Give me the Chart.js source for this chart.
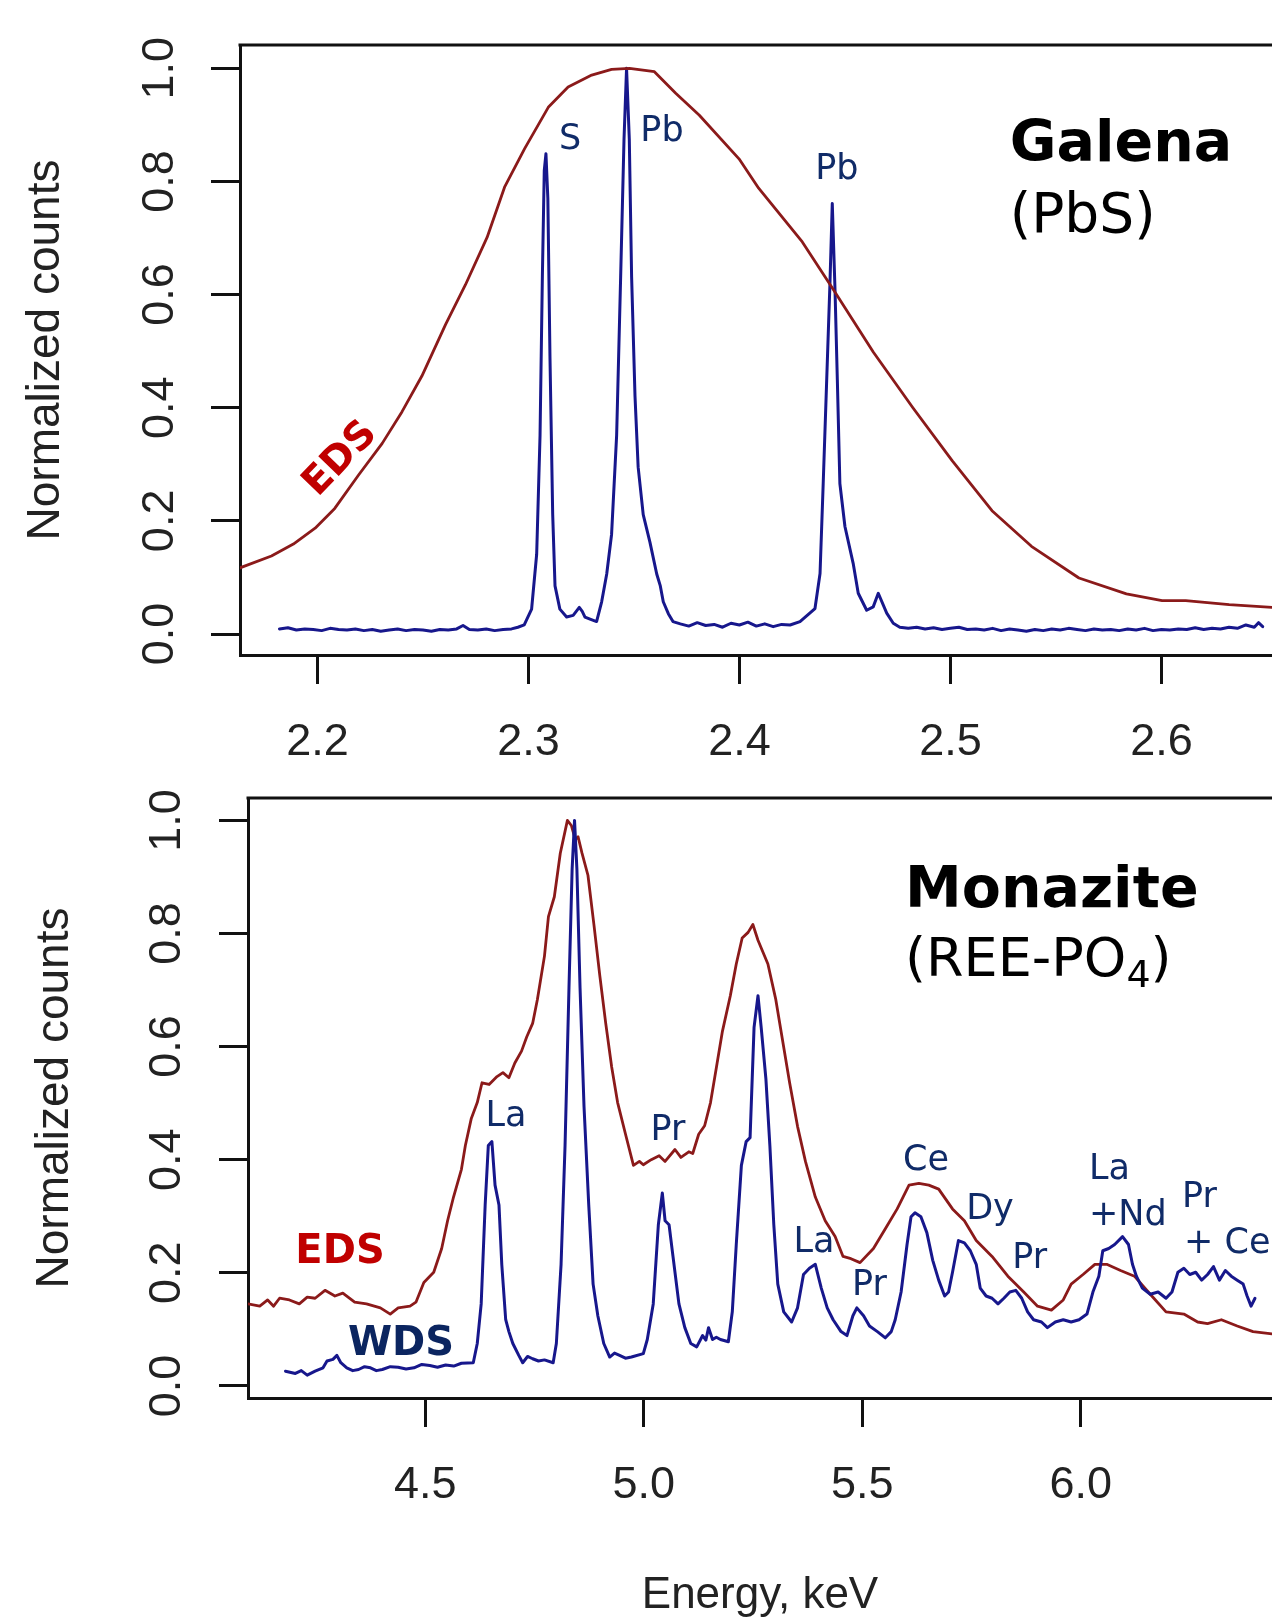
<!DOCTYPE html>
<html>
<head>
<meta charset="utf-8">
<script src="https://cdn.jsdelivr.net/npm/chart.js@4.4.0/dist/chart.umd.min.js"></script>
<style>
  html, body { margin: 0; padding: 0; background: #fff; }
  body { width: 1272px; height: 1622px; position: relative; overflow: hidden; }
  canvas { position: absolute; left: 0; }
  #galena { top: 0; }
  #monazite { top: 780px; }
</style>
</head>
<body>
<canvas id="galena" width="1272" height="780"></canvas>
<canvas id="monazite" width="1272" height="842"></canvas>
<script>
'use strict'
// ---- Galena (PbS) ----
const galenaEdsKeV = [2.1633, 2.1782, 2.1886, 2.1989, 2.2082, 2.2195, 2.2307, 2.2401, 2.2495, 2.2607,
  2.2701, 2.2804, 2.2888, 2.2982, 2.3094, 2.3188, 2.3300, 2.3394, 2.3479, 2.3597, 2.3698, 2.3810,
  2.3998, 2.4091, 2.4298, 2.4438, 2.4635, 2.4822, 2.5009, 2.5197, 2.5384, 2.5609, 2.5834, 2.6003,
  2.6115, 2.6321, 2.6524];
const galenaEdsCounts = [0.117, 0.138, 0.159, 0.187, 0.222, 0.281, 0.337, 0.393, 0.456, 0.547,
  0.617, 0.701, 0.791, 0.858, 0.931, 0.967, 0.988, 0.998, 1.000, 0.994, 0.956, 0.917,
  0.840, 0.788, 0.693, 0.613, 0.498, 0.400, 0.306, 0.218, 0.155, 0.099, 0.071, 0.059,
  0.059, 0.052, 0.047];

const galenaWdsKeV = [2.182, 2.186, 2.190, 2.194, 2.198, 2.202, 2.206, 2.210, 2.214, 2.218,
  2.222, 2.226, 2.230, 2.234, 2.238, 2.242, 2.246, 2.250, 2.254, 2.258, 2.262, 2.266, 2.269,
  2.272, 2.276, 2.280, 2.284, 2.288, 2.292, 2.295, 2.298,
  2.3015, 2.3039, 2.3055, 2.3066, 2.3075, 2.3083, 2.3092, 2.3102, 2.3115, 2.3126, 2.3149,
  2.3181, 2.3212, 2.3241, 2.3255, 2.3268, 2.3295, 2.3323, 2.3347, 2.3371, 2.3394, 2.3418,
  2.3437, 2.3453, 2.3465, 2.3478, 2.3489, 2.3505, 2.3520, 2.3544, 2.3576, 2.3608, 2.3625,
  2.3639, 2.3663, 2.3685, 2.372, 2.376, 2.380, 2.384, 2.388, 2.392, 2.396, 2.400, 2.404,
  2.408, 2.412, 2.416, 2.420, 2.424, 2.4287, 2.4358, 2.4382, 2.4397, 2.4413, 2.4429, 2.4440,
  2.4453, 2.4464, 2.4476, 2.4500, 2.4539, 2.4563, 2.4603, 2.4634, 2.4658, 2.4698, 2.4729,
  2.476, 2.480, 2.484, 2.488, 2.492, 2.496, 2.500, 2.504, 2.508, 2.512, 2.516, 2.520, 2.524,
  2.528, 2.532, 2.536, 2.540, 2.544, 2.548, 2.552, 2.556, 2.560, 2.564, 2.568, 2.572, 2.576,
  2.580, 2.584, 2.588, 2.592, 2.596, 2.600, 2.604, 2.608, 2.612, 2.616, 2.620, 2.624, 2.628,
  2.632, 2.636, 2.640, 2.644, 2.646, 2.648];
const galenaWdsCounts = [0.009, 0.011, 0.007, 0.009, 0.008, 0.006, 0.010, 0.008, 0.007, 0.009,
  0.006, 0.008, 0.005, 0.007, 0.009, 0.006, 0.008, 0.007, 0.005, 0.008, 0.007, 0.009, 0.015,
  0.008, 0.007, 0.009, 0.006, 0.008, 0.009, 0.012, 0.016,
  0.044, 0.141, 0.351, 0.631, 0.819, 0.849, 0.770, 0.491, 0.211, 0.085, 0.044,
  0.030, 0.033, 0.047, 0.040, 0.030, 0.026, 0.022, 0.057, 0.106, 0.176, 0.351,
  0.631, 0.875, 1.000, 0.875, 0.631, 0.421, 0.295, 0.211, 0.162, 0.106, 0.085,
  0.057, 0.036, 0.022, 0.018, 0.014, 0.020, 0.015, 0.017, 0.012, 0.019, 0.016, 0.021,
  0.014, 0.018, 0.013, 0.017, 0.016, 0.022, 0.045, 0.107, 0.266, 0.443, 0.620, 0.761,
  0.608, 0.449, 0.266, 0.190, 0.125, 0.072, 0.042, 0.048, 0.072, 0.037, 0.019,
  0.012, 0.010, 0.012, 0.009, 0.011, 0.008, 0.010, 0.012, 0.008, 0.009, 0.007, 0.010, 0.006,
  0.009, 0.007, 0.005, 0.008, 0.006, 0.009, 0.007, 0.010, 0.008, 0.006, 0.009, 0.007, 0.008,
  0.006, 0.009, 0.007, 0.010, 0.006, 0.008, 0.007, 0.009, 0.008, 0.011, 0.008, 0.010, 0.009,
  0.012, 0.010, 0.016, 0.012, 0.020, 0.013];

const galenaTicksKeV = [2.2, 2.3, 2.4, 2.5, 2.6];

// ---- Monazite (REE-PO4) ----
const monaziteEdsKeV = [4.0941, 4.1212, 4.1393, 4.1529, 4.1665, 4.1891, 4.2117, 4.2298, 4.2479,
  4.2705, 4.2932, 4.3113, 4.3384, 4.3655, 4.3972, 4.4198, 4.4379, 4.4651, 4.4786, 4.4967,
  4.5193, 4.5375, 4.5510, 4.5646, 4.5827, 4.5917, 4.6053, 4.6189, 4.6298, 4.6460, 4.6641,
  4.6777, 4.6913, 4.7049, 4.7202, 4.7320, 4.7456, 4.7564, 4.7727, 4.7818, 4.7953, 4.8089,
  4.8252, 4.8342, 4.8433, 4.8496, 4.8586, 4.8722, 4.8858, 4.8994, 4.9129, 4.9265, 4.9401,
  4.9582, 4.9763, 4.9899, 4.9989, 5.0170, 5.0351, 5.0487, 5.0713, 5.0849, 5.1030, 5.1120,
  5.1256, 5.1392, 5.1527, 5.1663, 5.1799, 5.1980, 5.2116, 5.2251, 5.2387, 5.2496, 5.2613,
  5.2840, 5.3021, 5.3156, 5.3337, 5.3518, 5.3699, 5.3925, 5.4151, 5.4378, 5.4559, 5.4740,
  5.4948, 5.5255, 5.5527, 5.5798, 5.6069, 5.6295, 5.6522, 5.6748, 5.7064, 5.7336, 5.7607,
  5.7969, 5.8331, 5.8694, 5.9010, 5.9327, 5.9598, 5.9779, 6.0051, 6.0322, 6.0593, 6.0910,
  6.1227, 6.1589, 6.1950, 6.2358, 6.2674, 6.2900, 6.3217, 6.3579, 6.3941, 6.4376];
const monaziteEdsCounts = [0.145, 0.141, 0.152, 0.141, 0.155, 0.152, 0.145, 0.157, 0.155,
  0.169, 0.159, 0.164, 0.148, 0.145, 0.138, 0.127, 0.138, 0.141, 0.148, 0.183,
  0.201, 0.243, 0.292, 0.334, 0.383, 0.425, 0.473, 0.501, 0.536, 0.533, 0.547,
  0.554, 0.545, 0.571, 0.592, 0.617, 0.641, 0.683, 0.760, 0.830, 0.865, 0.942,
  1.000, 0.991, 0.966, 0.971, 0.942, 0.903, 0.816, 0.725, 0.641, 0.564, 0.501,
  0.445, 0.390, 0.397, 0.391, 0.400, 0.407, 0.397, 0.418, 0.404, 0.414, 0.411,
  0.445, 0.460, 0.501, 0.564, 0.627, 0.690, 0.746, 0.792, 0.802, 0.816, 0.788,
  0.746, 0.683, 0.620, 0.536, 0.459, 0.397, 0.334, 0.292, 0.264, 0.229, 0.225,
  0.218, 0.243, 0.278, 0.313, 0.355, 0.358, 0.355, 0.348, 0.313, 0.292, 0.257,
  0.229, 0.194, 0.166, 0.141, 0.134, 0.152, 0.180, 0.197, 0.215, 0.215, 0.204,
  0.194, 0.162, 0.131, 0.127, 0.113, 0.110, 0.117, 0.106, 0.096, 0.092];

const monaziteWdsKeV = [4.1801, 4.2027, 4.2162, 4.2298, 4.2479, 4.2660, 4.2751, 4.2886, 4.2977,
  4.3067, 4.3203, 4.3340, 4.3474, 4.3610, 4.3746, 4.3880, 4.4017, 4.4200, 4.4379, 4.4560,
  4.4741, 4.4920, 4.5103, 4.5280, 4.5465, 4.5650, 4.5827, 4.6098, 4.6189, 4.6279, 4.6370,
  4.6442, 4.6524, 4.6596, 4.6686, 4.6750, 4.6840, 4.6913, 4.7003, 4.7139, 4.7229, 4.7340,
  4.7456, 4.7590, 4.7727, 4.7926, 4.7999, 4.8107, 4.8198, 4.8288, 4.8360, 4.8415, 4.8469,
  4.8541, 4.8632, 4.8740, 4.8840, 4.8948, 4.9084, 4.9220, 4.9330, 4.9446, 4.9580, 4.9718,
  4.9989, 5.0080, 5.0216, 5.0333, 5.0424, 5.0487, 5.0578, 5.0668, 5.0804, 5.0939, 5.1075,
  5.1211, 5.1346, 5.1420, 5.1482, 5.1573, 5.1660, 5.1754, 5.1935, 5.2025, 5.2116, 5.2233,
  5.2342, 5.2432, 5.2523, 5.2613, 5.2686, 5.2794, 5.2885, 5.2975, 5.3066, 5.3202, 5.3383,
  5.3518, 5.3654, 5.3790, 5.3925, 5.4061, 5.4197, 5.4332, 5.4513, 5.4649, 5.4785, 5.4875,
  5.5029, 5.5164, 5.5345, 5.5527, 5.5662, 5.5753, 5.5888, 5.6024, 5.6115, 5.6205, 5.6341,
  5.6477, 5.6612, 5.6748, 5.6884, 5.6974, 5.7064, 5.7200, 5.7336, 5.7472, 5.7607, 5.7698,
  5.7833, 5.7969, 5.8105, 5.8240, 5.8376, 5.8512, 5.8648, 5.8783, 5.8919, 5.9100, 5.9236,
  5.9417, 5.9598, 5.9779, 5.9960, 6.0141, 6.0277, 6.0413, 6.0503, 6.0639, 6.0775, 6.0955,
  6.1091, 6.1182, 6.1272, 6.1408, 6.1589, 6.1769, 6.1950, 6.2086, 6.2222, 6.2358, 6.2494,
  6.2629, 6.2765, 6.2901, 6.3036, 6.3172, 6.3308, 6.3443, 6.3579, 6.3715, 6.3805, 6.3896,
  6.3986];
const monaziteWdsCounts = [0.026, 0.022, 0.027, 0.019, 0.026, 0.032, 0.044, 0.047, 0.054,
  0.041, 0.032, 0.027, 0.029, 0.034, 0.032, 0.027, 0.029, 0.034, 0.033, 0.030,
  0.032, 0.038, 0.036, 0.033, 0.037, 0.035, 0.040, 0.041, 0.075, 0.145, 0.320,
  0.425, 0.432, 0.355, 0.320, 0.215, 0.117, 0.096, 0.075, 0.054, 0.041, 0.052,
  0.048, 0.044, 0.046, 0.041, 0.075, 0.215, 0.425, 0.704, 0.914, 1.000, 0.914,
  0.704, 0.494, 0.320, 0.180, 0.124, 0.075, 0.051, 0.058, 0.054, 0.049, 0.051,
  0.057, 0.082, 0.145, 0.285, 0.341, 0.292, 0.285, 0.229, 0.145, 0.103, 0.075,
  0.069, 0.089, 0.081, 0.103, 0.082, 0.086, 0.082, 0.078, 0.131, 0.250, 0.390,
  0.432, 0.439, 0.634, 0.690, 0.634, 0.543, 0.425, 0.285, 0.180, 0.131, 0.113,
  0.138, 0.197, 0.208, 0.215, 0.173, 0.138, 0.117, 0.096, 0.089, 0.124, 0.138,
  0.124, 0.106, 0.096, 0.085, 0.096, 0.117, 0.166, 0.250, 0.299, 0.306, 0.299,
  0.271, 0.222, 0.187, 0.159, 0.166, 0.201, 0.257, 0.253, 0.239, 0.215, 0.173,
  0.159, 0.155, 0.145, 0.155, 0.166, 0.169, 0.155, 0.131, 0.117, 0.113, 0.103,
  0.113, 0.117, 0.113, 0.117, 0.127, 0.166, 0.194, 0.239, 0.243, 0.250, 0.264,
  0.250, 0.215, 0.194, 0.173, 0.162, 0.166, 0.155, 0.166, 0.201, 0.208, 0.197,
  0.201, 0.187, 0.197, 0.211, 0.187, 0.204, 0.194, 0.187, 0.180, 0.159, 0.141,
  0.155];

const monaziteTicksKeV = [4.5, 5.0, 5.5, 6.0];
const countTicks = [0.0, 0.2, 0.4, 0.6, 0.8, 1.0];

Chart.defaults.font.family = "'Liberation Sans', Arial, sans-serif";
Chart.defaults.color = '#222';

const EDS_LINE = '#8b1a1a';
const WDS_LINE = '#17178c';
const NAVY = '#102b68';
const peakFont = '35px "DejaVu Sans"';

const pts = function (xs, ys) { return xs.map((x, i) => ({x: x, y: ys[i]})); };

// box top edge + text notes placed in data units
const frameAndNotes = {
    id: 'frameAndNotes',
    afterDraw(chart, args, opts) {
        const ctx = chart.ctx;
        const a = chart.chartArea;
        const xs = chart.scales.x;
        const ys = chart.scales.y;
        ctx.save();
        ctx.strokeStyle = '#111';
        ctx.lineWidth = 3;
        ctx.beginPath();
        ctx.moveTo(a.left - 1.5, a.top);
        ctx.lineTo(a.right, a.top);
        ctx.stroke();
        (opts.notes || []).forEach(function (n) {
            ctx.save();
            ctx.translate(xs.getPixelForValue(n.kev), ys.getPixelForValue(n.counts));
            if (n.angle) ctx.rotate(n.angle * Math.PI / 180);
            ctx.fillStyle = n.color;
            ctx.textAlign = n.align || 'left';
            ctx.textBaseline = n.baseline || 'alphabetic';
            const parts = n.parts || [{text: n.text, font: n.font, dy: 0}];
            let x = 0;
            parts.forEach(function (p) {
                ctx.font = p.font;
                ctx.fillText(p.text, x, p.dy || 0);
                x += ctx.measureText(p.text).width;
            });
            ctx.restore();
        });
        ctx.restore();
    }
};

const spectrumChart = function (canvas, c) {
    return new Chart(canvas, {
        type: 'line',
        data: {datasets: c.datasets},
        plugins: [frameAndNotes],
        options: {
            responsive: false,
            animation: false,
            layout: {padding: {top: c.padTop, left: 0, right: 0, bottom: 0}},
            elements: {point: {radius: 0}, line: {tension: 0, borderJoinStyle: 'round', borderCapStyle: 'round'}},
            plugins: {
                legend: {display: false},
                tooltip: {enabled: false},
                frameAndNotes: {notes: c.notes}
            },
            scales: {
                x: {
                    type: 'linear',
                    min: c.xMin,
                    max: c.xMax,
                    afterBuildTicks: function (s) { s.ticks = c.xTicks.map(v => ({value: v})); },
                    afterFit: function (s) { s.height = c.xAxisHeight; s.paddingLeft = 0; s.paddingRight = 0; },
                    border: {display: true, color: '#111', width: 3},
                    grid: {display: true, drawOnChartArea: false, drawTicks: true, tickLength: 29, tickWidth: 3, tickColor: '#111'},
                    ticks: {
                        font: {size: 45},
                        color: '#222',
                        padding: 32,
                        maxRotation: 0,
                        autoSkip: false,
                        callback: v => v.toFixed(1)
                    },
                    title: c.xTitle ? {
                        display: true,
                        text: c.xTitle,
                        font: {size: 44},
                        color: '#222',
                        padding: {top: 0, bottom: 0}
                    } : {display: false}
                },
                y: {
                    min: c.yMin,
                    max: c.yMax,
                    afterBuildTicks: function (s) { s.ticks = countTicks.map(v => ({value: v})); },
                    afterFit: function (s) { s.width = c.yAxisWidth; s.paddingTop = 0; s.paddingBottom = 0; },
                    border: {display: true, color: '#111', width: 3},
                    grid: {display: true, drawOnChartArea: false, drawTicks: true, tickLength: 29, tickWidth: 3, tickColor: '#111'},
                    ticks: {
                        font: {size: 45},
                        color: '#222',
                        padding: c.yTickPad,
                        minRotation: 90,
                        maxRotation: 90,
                        crossAlign: 'center',
                        autoSkip: false,
                        callback: v => v.toFixed(1)
                    },
                    title: {
                        display: true,
                        text: 'Normalized counts',
                        font: {size: 46},
                        color: '#222',
                        padding: {top: c.yTitlePad, bottom: 0}
                    }
                }
            }
        }
    });
};

const galenaChart = spectrumChart(document.getElementById('galena'), {
    datasets: [
        {label: 'EDS', data: pts(galenaEdsKeV, galenaEdsCounts), borderColor: EDS_LINE, borderWidth: 2.8},
        {label: 'WDS', data: pts(galenaWdsKeV, galenaWdsCounts), borderColor: WDS_LINE, borderWidth: 3.0}
    ],
    xMin: 2.1633, xMax: 2.6524, xTicks: galenaTicksKeV,
    yMin: -0.0371, yMax: 1.0412,
    padTop: 45, xAxisHeight: 125, yAxisWidth: 240, yTickPad: 19, yTitlePad: 19,
    notes: [
        {text: 'S', kev: 2.3197, counts: 0.858, font: peakFont, color: NAVY, align: 'center'},
        {text: 'Pb', kev: 2.3633, counts: 0.872, font: peakFont, color: NAVY, align: 'center'},
        {text: 'Pb', kev: 2.4462, counts: 0.805, font: peakFont, color: NAVY, align: 'center'},
        {text: 'Galena', kev: 2.5281, counts: 0.837, font: 'bold 57px "DejaVu Sans"', color: '#000'},
        {text: '(PbS)', kev: 2.5281, counts: 0.711, font: '55px "DejaVu Sans"', color: '#000'},
        {text: 'EDS', kev: 2.2110, counts: 0.309, font: 'bold 39px "DejaVu Sans"', color: '#c00000',
            align: 'center', baseline: 'middle', angle: -46}
    ]
});

const monaziteChart = spectrumChart(document.getElementById('monazite'), {
    datasets: [
        {label: 'WDS', data: pts(monaziteWdsKeV, monaziteWdsCounts), borderColor: WDS_LINE, borderWidth: 3.0},
        {label: 'EDS', data: pts(monaziteEdsKeV, monaziteEdsCounts), borderColor: EDS_LINE, borderWidth: 2.8}
    ],
    xMin: 4.0943, xMax: 6.4375, xTicks: monaziteTicksKeV, xTitle: 'Energy, keV',
    yMin: -0.0214, yMax: 1.0396,
    padTop: 18, xAxisHeight: 224, yAxisWidth: 248, yTickPad: 20, yTitlePad: 28,
    notes: [
        {text: 'La', kev: 4.6847, counts: 0.4596, font: peakFont, color: NAVY, align: 'center'},
        {text: 'Pr', kev: 5.0554, counts: 0.4348, font: peakFont, color: NAVY, align: 'center'},
        {text: 'La', kev: 5.3895, counts: 0.2371, font: peakFont, color: NAVY, align: 'center'},
        {text: 'Pr', kev: 5.5165, counts: 0.1602, font: peakFont, color: NAVY, align: 'center'},
        {text: 'Ce', kev: 5.6458, counts: 0.3825, font: peakFont, color: NAVY, align: 'center'},
        {text: 'Dy', kev: 5.7922, counts: 0.2951, font: peakFont, color: NAVY, align: 'center'},
        {text: 'Pr', kev: 5.8828, counts: 0.2076, font: peakFont, color: NAVY, align: 'center'},
        {text: 'La', kev: 6.0188, counts: 0.365, font: peakFont, color: NAVY},
        {text: '+Nd', kev: 6.0188, counts: 0.2846, font: peakFont, color: NAVY},
        {text: 'Pr', kev: 6.2316, counts: 0.316, font: peakFont, color: NAVY},
        {text: '+ Ce', kev: 6.2362, counts: 0.2357, font: peakFont, color: NAVY},
        {text: 'EDS', kev: 4.2027, counts: 0.2182, font: 'bold 40px "DejaVu Sans"', color: '#c00000'},
        {text: 'WDS', kev: 4.4444, counts: 0.0553, font: 'bold 40px "DejaVu Sans"', color: '#0b2560', align: 'center'},
        {text: 'Monazite', kev: 5.5977, counts: 0.8476, font: 'bold 57px "DejaVu Sans"', color: '#000'},
        {kev: 5.5977, counts: 0.7252, color: '#000', parts: [
            {text: '(REE-PO', font: '54px "DejaVu Sans"', dy: 0},
            {text: '4', font: '38px "DejaVu Sans"', dy: 11},
            {text: ')', font: '54px "DejaVu Sans"', dy: 0}
        ]}
    ]
});
</script>
</body>
</html>
